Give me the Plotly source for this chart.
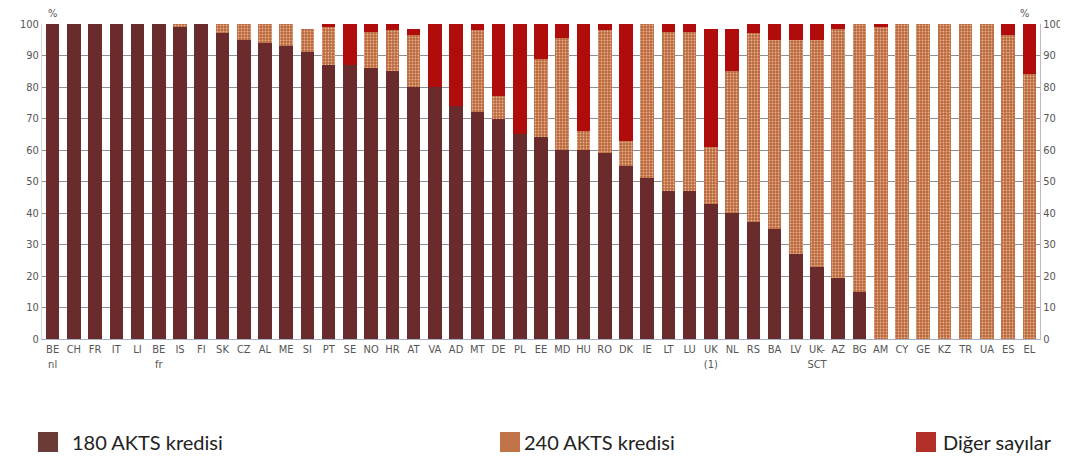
import plotly.graph_objects as go

# country codes along the x axis (line breaks as in the original)
countries = ["BE<br>nl", "CH", "FR", "IT", "LI", "BE<br>fr", "IS", "FI", "SK", "CZ",
             "AL", "ME", "SI", "PT", "SE", "NO", "HR", "AT", "VA", "AD",
             "MT", "DE", "PL", "EE", "MD", "HU", "RO", "DK", "IE", "LT",
             "LU", "UK<br>(1)", "NL", "RS", "BA", "LV", "UK-<br>SCT", "AZ", "BG", "AM",
             "CY", "GE", "KZ", "TR", "UA", "ES", "EL"]

# share of programmes (%)
ects_180 = [100, 100, 100, 100, 100, 100, 99, 100, 97, 95,
            94, 93, 91, 87, 87, 86, 85, 80, 80, 74,
            72, 70, 65, 64, 60, 60, 59, 55, 51, 47,
            47, 43, 40, 37, 35, 27, 23, 19.5, 15, 0,
            0, 0, 0, 0, 0, 0, 0]
ects_240 = [0, 0, 0, 0, 0, 0, 1, 0, 3, 5,
            6, 7, 7.5, 12, 0, 11.5, 13, 16.5, 0, 0,
            26, 7, 0, 25, 35.5, 6, 39, 8, 49, 50.5,
            50.5, 18, 45, 60, 60, 68, 72, 79, 85, 99,
            100, 100, 100, 100, 100, 96.5, 84]
other = [0, 0, 0, 0, 0, 0, 0, 0, 0, 0,
         0, 0, 0, 1, 13, 2.5, 2, 2, 20, 26,
         2, 23, 35, 11, 4.5, 34, 2, 37, 0, 2.5,
         2.5, 37.5, 13.5, 3, 5, 5, 5, 1.5, 0, 1,
         0, 0, 0, 0, 0, 3.5, 16]

legend_names = ["180 AKTS kredisi", "240 AKTS kredisi", "Diğer sayılar"]
y_ticks = [0, 10, 20, 30, 40, 50, 60, 70, 80, 90, 100]

brown = "#6a2b2d"
tan_bg = "#b9683f"
tan_dots = "#e9b48e"
red = "#b10c0c"

# the page puts the figure 8px in from the corner, so size it to fill the window
OFF = 8
W, H = 1060, 453
ML, MR, MT, MB = 34, 28, 16, 122
pw, ph = W - ML - MR, H - MT - MB


def px_x(p):
    # screen pixel -> paper fraction
    return (p - OFF - ML) / pw


def px_y(p):
    return (H - MB - (p - OFF)) / ph


fig = go.Figure()
fig.add_trace(go.Bar(x=countries, y=ects_180, name=legend_names[0],
                     marker=dict(color=brown, line=dict(width=0))))
fig.add_trace(go.Bar(x=countries, y=ects_240, name=legend_names[1],
                     marker=dict(color=tan_bg, line=dict(width=0),
                                 pattern=dict(shape=".", bgcolor=tan_bg, fgcolor=tan_dots,
                                              size=3, solidity=0.3, fillmode="replace"))))
fig.add_trace(go.Bar(x=countries, y=other, name=legend_names[2],
                     marker=dict(color=red, line=dict(width=0))))
# invisible helper so the right-hand axis gets drawn
fig.add_trace(go.Bar(x=countries[:1], y=[0], yaxis="y2", showlegend=False,
                     hoverinfo="skip", marker=dict(color="rgba(0,0,0,0)")))

tick_font = dict(family="DejaVu Sans Condensed, Liberation Sans Narrow, Arial Narrow",
                 size=11, color="#555555")

fig.update_layout(
    width=W, height=H,
    barmode="stack", bargap=0.36,
    plot_bgcolor="white", paper_bgcolor="white",
    margin=dict(l=ML, r=MR, t=MT, b=MB),
    showlegend=False,
    xaxis=dict(type="category", tickfont=tick_font, ticks="", showgrid=False,
               showline=True, linecolor="#a9b0c4", linewidth=1, automargin=False,
               range=[-0.5, len(countries) - 0.5]),
    yaxis=dict(range=[0, 100], tickvals=y_ticks, tickfont=tick_font, automargin=False,
               showgrid=True, gridcolor="#8e8e98", gridwidth=1,
               showline=True, linecolor="#d8d8e0", zeroline=False),
    yaxis2=dict(range=[0, 100], tickvals=y_ticks, tickfont=tick_font, automargin=False,
                overlaying="y", side="right", showgrid=False,
                showline=True, linecolor="#c9b4c4", zeroline=False),
)

# "%" unit labels above both axes
fig.add_annotation(x=px_x(46), y=1.0, xref="paper", yref="paper", text="%", showarrow=False,
                   yanchor="bottom", yshift=2, font=tick_font)
fig.add_annotation(x=px_x(1031), y=1.0, xref="paper", yref="paper", text="%", showarrow=False,
                   yanchor="bottom", yshift=2, font=tick_font)

# legend drawn below the chart, spread across the width like the original
legend_colors = ["#6b3b38", "#c07448", "#b3302a"]
legend_x = [38, 500, 916]
legend_gap = [12, 2, 5]
for name, col, lx, gap in zip(legend_names, legend_colors, legend_x, legend_gap):
    fig.add_shape(type="rect", xref="paper", yref="paper",
                  x0=px_x(lx), x1=px_x(lx + 20), y0=px_y(452), y1=px_y(432),
                  fillcolor=col, line=dict(width=0))
    fig.add_annotation(x=px_x(lx + 20 + gap), y=px_y(442), xref="paper", yref="paper",
                       text=name, showarrow=False, xanchor="left", yanchor="middle",
                       font=dict(family="Lato, Open Sans", size=20, color="#222222"))

fig.write_html("out.html")
